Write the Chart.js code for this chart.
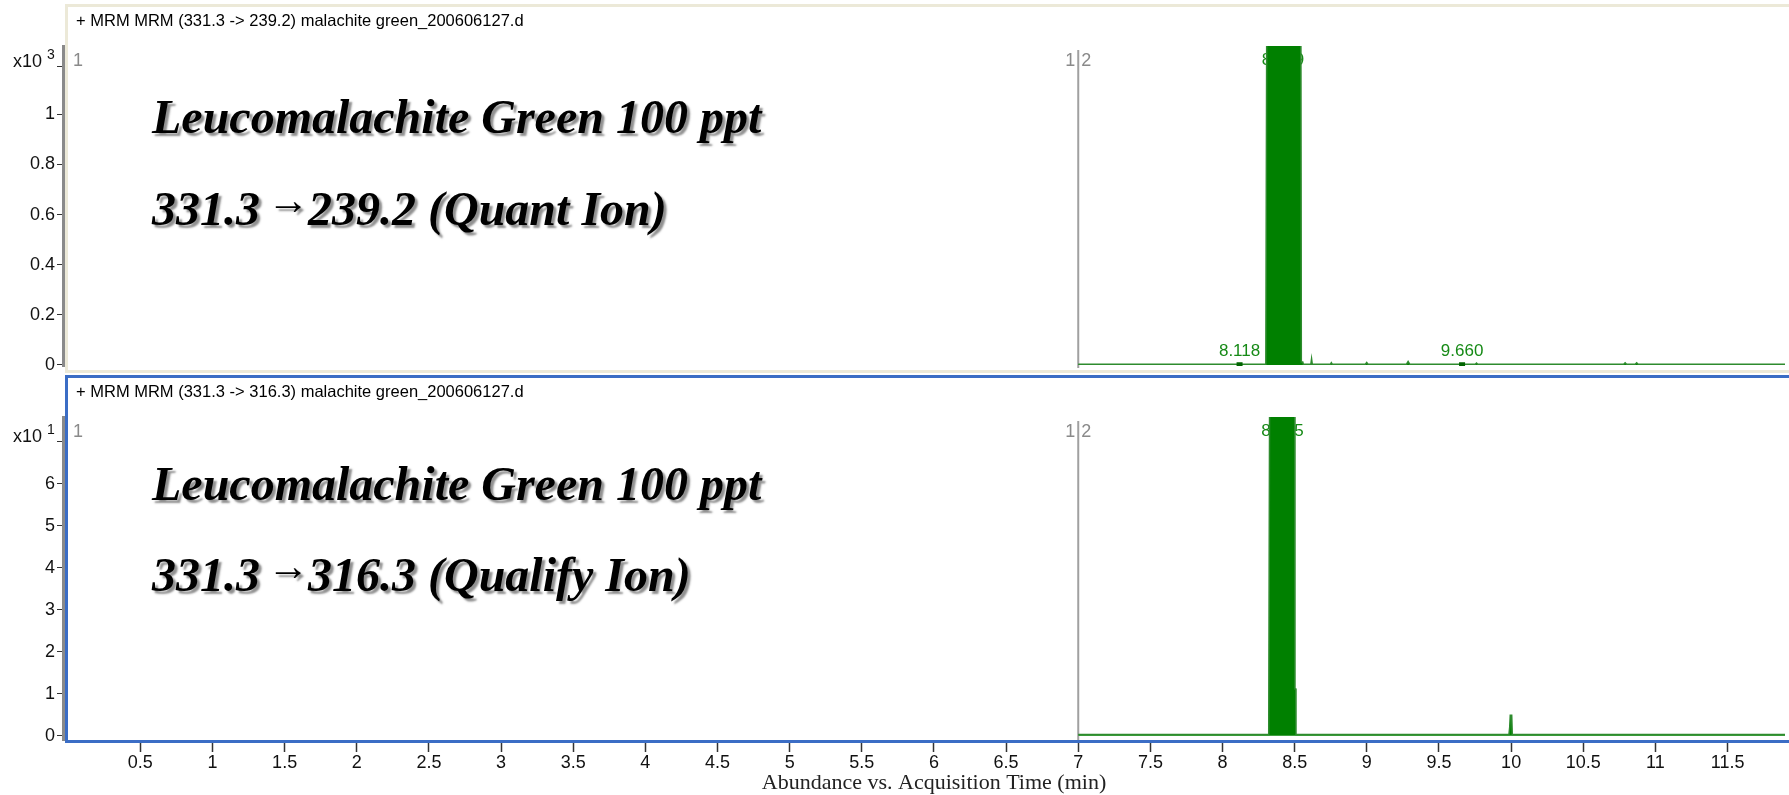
<!DOCTYPE html>
<html>
<head>
<meta charset="utf-8">
<script src="https://cdn.jsdelivr.net/npm/chart.js@4.4.1/dist/chart.umd.min.js"></script>
<style>
    html, body { margin: 0; padding: 0; background: #fff; }
    body { width: 1789px; height: 795px; position: relative; overflow: hidden; }
    .box { position: absolute; left: 0; width: 1789px; }
    #boxTop { top: 0; height: 380px; }
    #boxBot { top: 380px; height: 415px; }
    .frame { position: absolute; pointer-events: none; box-sizing: border-box; }
    #frameTop { left: 65px; top: 4px; width: 1740px; height: 369px; border: 3px solid #ece9d8; }
    #frameBot { left: 65px; top: 375px; width: 1740px; height: 368px; border: 3px solid #3b6dc5; }
    .hdr { position: absolute; left: 76px; font: 16.5px 'Liberation Sans', Arial, sans-serif; color: #000; white-space: nowrap; line-height: 18px; }
</style>
</head>
<body>
<div class="box" id="boxTop"><canvas id="graficoQuant"></canvas></div>
<div class="box" id="boxBot"><canvas id="graficoQual"></canvas></div>
<div class="frame" id="frameTop"></div>
<div class="frame" id="frameBot"></div>
<div class="hdr" style="top: 11px">+ MRM MRM (331.3 -&gt; 239.2) malachite green_200606127.d</div>
<div class="hdr" style="top: 382px">+ MRM MRM (331.3 -&gt; 316.3) malachite green_200606127.d</div>
<script>
const xTicks = [0.5, 1, 1.5, 2, 2.5, 3, 3.5, 4, 4.5, 5, 5.5, 6, 6.5, 7, 7.5, 8, 8.5, 9, 9.5, 10, 10.5, 11, 11.5]
const segmentBreak = 7.0

// 331.3 -> 239.2, abundance x10^3
const quantTime = [7.0, 8.300, 8.306, 8.543, 8.546, 8.556, 8.560, 8.612, 8.617, 8.622, 8.748, 8.754, 8.760, 8.990, 8.999, 9.008, 9.275, 9.286, 9.297, 9.752, 9.760, 9.768, 10.780, 10.790, 10.800, 10.860, 10.870, 10.880, 11.9]
const quantAbund = [0.003, 0.003, 1.30, 1.30, 0.012, 0.012, 0.003, 0.003, 0.025, 0.003, 0.003, 0.009, 0.003, 0.003, 0.010, 0.003, 0.003, 0.014, 0.003, 0.003, 0.008, 0.003, 0.003, 0.009, 0.003, 0.003, 0.009, 0.003, 0.003]
const quantYTicks = [0, 0.2, 0.4, 0.6, 0.8, 1]
const quantYLabels = ['0', '0.2', '0.4', '0.6', '0.8', '1']
const quantRt = [8.118, 8.419, 9.660]
const quantRtLabels = ['8.118', '8.419', '9.660']
const quantRtHeight = [0.003, 1.30, 0.003]

// 331.3 -> 316.3, abundance x10^1
const qualTime = [7.0, 8.320, 8.326, 8.501, 8.502, 8.508, 8.509, 9.985, 9.990, 9.994, 10.004, 10.008, 11.9]
const qualAbund = [0.03, 0.03, 7.8, 7.8, 1.11, 1.11, 0.03, 0.03, 0.20, 0.49, 0.49, 0.03, 0.03]
const qualYTicks = [0, 1, 2, 3, 4, 5, 6]
const qualYLabels = ['0', '1', '2', '3', '4', '5', '6']
const qualRt = [8.415]
const qualRtLabels = ['8.415']
const qualRtHeight = [7.8]

const sansFont = "'Liberation Sans', Arial, sans-serif"
const serifFont = "'Liberation Serif', 'Times New Roman', serif"

const panelText = {
    id: 'panelText',
    beforeDatasetsDraw(chart, args, o) {
        const { ctx, chartArea, scales: { x, y } } = chart
        ctx.save()
        // segment separator and segment numbers
        const sx = x.getPixelForValue(o.segment)
        ctx.strokeStyle = '#a0a0a0'
        ctx.lineWidth = 2
        ctx.beginPath()
        ctx.moveTo(sx, chartArea.top + 4)
        ctx.lineTo(sx, chartArea.bottom + 2)
        ctx.stroke()
        ctx.font = '18px ' + sansFont
        ctx.fillStyle = '#8a8a8a'
        ctx.textBaseline = 'middle'
        const ny = chartArea.top + 15
        ctx.textAlign = 'left'
        ctx.fillText('1', chartArea.left + 10, ny)
        ctx.fillText('2', sx + 3, ny)
        ctx.textAlign = 'right'
        ctx.fillText('1', sx - 3, ny)

        // retention time labels, the trace covers them
        ctx.font = '17px ' + sansFont
        ctx.fillStyle = '#168a16'
        ctx.textAlign = 'center'
        o.rt.forEach((t, i) => {
            const py = Math.max(y.getPixelForValue(o.rtHeight[i]) - 13, chartArea.top + 14)
            ctx.fillText(o.rtLabels[i], x.getPixelForValue(t), py)
        })
        ctx.restore()
    },
    afterDatasetsDraw(chart, args, o) {
        const { ctx, chartArea, scales: { x, y } } = chart
        ctx.save()
        ctx.beginPath()
        ctx.rect(chartArea.left, chartArea.top, chartArea.width, chartArea.height)
        ctx.clip()
        ctx.fillStyle = '#006400'
        o.rt.forEach((t, i) => {
            ctx.fillRect(x.getPixelForValue(t) - 3, y.getPixelForValue(o.rtHeight[i]) - 2, 6, 4)
        })
        ctx.restore()
    },
    afterDraw(chart, args, o) {
        const { ctx, scales: { y } } = chart
        ctx.save()
        // exponent at top of y axis
        const ey = y.getPixelForValue(o.expValue)
        ctx.fillStyle = '#111'
        ctx.textAlign = 'left'
        ctx.textBaseline = 'alphabetic'
        ctx.font = '18px ' + sansFont
        ctx.fillText('x10', 13, ey)
        ctx.font = '14px ' + sansFont
        ctx.fillText(o.expText, 47, ey - 8)

        // big notes, the arrow is set upright and raised
        const noteFont = 'italic bold 48px ' + serifFont
        ctx.font = noteFont
        ctx.fillStyle = '#000'
        ctx.shadowColor = 'rgba(70,70,70,0.6)'
        ctx.shadowOffsetX = 3
        ctx.shadowOffsetY = 3
        ctx.shadowBlur = 2
        o.notes.forEach((s, i) => {
            const ny = o.noteY[i]
            const parts = s.split('\u2192')
            ctx.fillText(parts[0], 152, ny)
            if (parts.length > 1) {
                const xx = 152 + ctx.measureText(parts[0]).width
                ctx.font = 'bold 42px ' + serifFont
                ctx.textAlign = 'center'
                ctx.textBaseline = 'middle'
                ctx.fillText('\u2192', xx + 16, ny - 22)
                ctx.font = noteFont
                ctx.textAlign = 'left'
                ctx.textBaseline = 'alphabetic'
                ctx.fillText(parts[1], xx + 36, ny)
            }
        })
        ctx.shadowColor = 'transparent'

        if (o.xTitle) {
            ctx.font = '22px ' + serifFont
            ctx.fillStyle = '#222'
            ctx.textAlign = 'center'
            ctx.textBaseline = 'middle'
            ctx.fillText(o.xTitle, 934, chart.height - 12)
        }
        ctx.restore()
    }
}

function criarPainel(id, cfg) {
    const el = document.getElementById(id)
    const pts = cfg.time.map((t, i) => ({ x: t, y: cfg.abund[i] }))
    const yTicks = cfg.yTicks.concat([cfg.expValue])

    return new Chart(el, {
        type: 'line',
        data: {
            datasets: [{
                data: pts,
                borderColor: '#2e8b2e',
                borderWidth: 1.5,
                backgroundColor: '#008000',
                fill: 'origin',
                pointRadius: 0,
                tension: 0
            }]
        },
        options: {
            responsive: true,
            maintainAspectRatio: false,
            animation: false,
            events: [],
            layout: { padding: cfg.padding },
            plugins: {
                legend: { display: false },
                tooltip: { enabled: false },
                panelText: {
                    segment: segmentBreak,
                    rt: cfg.rt,
                    rtLabels: cfg.rtLabels,
                    rtHeight: cfg.rtHeight,
                    expValue: cfg.expValue,
                    expText: cfg.expText,
                    notes: cfg.notes,
                    noteY: cfg.noteY,
                    xTitle: cfg.xTitle
                }
            },
            scales: {
                x: {
                    type: 'linear',
                    min: -0.036,
                    max: 11.898,
                    display: cfg.showX,
                    afterBuildTicks: s => { s.ticks = xTicks.map(v => ({ value: v })) },
                    afterFit: s => { s.height = cfg.xHeight },
                    border: { display: false },
                    grid: { drawOnChartArea: false, tickLength: 12, tickColor: '#333', tickWidth: 1.5 },
                    ticks: {
                        autoSkip: false,
                        maxRotation: 0,
                        padding: 0,
                        color: '#111',
                        font: { family: sansFont, size: 18 },
                        callback: (v, i) => String(xTicks[i])
                    }
                },
                y: {
                    type: 'linear',
                    min: cfg.yMin,
                    max: cfg.yMax,
                    afterBuildTicks: s => { s.ticks = yTicks.map(v => ({ value: v })) },
                    afterFit: s => { s.width = 63 },
                    border: { display: true, color: '#8a8a8a', width: 3 },
                    grid: { drawOnChartArea: false, tickLength: 6, tickColor: '#333' },
                    ticks: {
                        padding: 2,
                        color: '#111',
                        font: { family: sansFont, size: 18 },
                        callback: (v, i) => cfg.yLabels[i] || ''
                    }
                }
            }
        },
        plugins: [panelText]
    })
}

document.addEventListener('DOMContentLoaded', () => {
    criarPainel('graficoQuant', {
        time: quantTime,
        abund: quantAbund,
        yTicks: quantYTicks,
        yLabels: quantYLabels,
        yMin: -0.004,
        yMax: 1.2724,
        expValue: 1.19,
        expText: '3',
        rt: quantRt,
        rtLabels: quantRtLabels,
        rtHeight: quantRtHeight,
        notes: ['Leucomalachite Green 100 ppt', '331.3 \u2192239.2 (Quant Ion)'],
        noteY: [133, 225],
        padding: { top: 46, bottom: 14, left: 0, right: 4 },
        showX: false,
        xHeight: 0
    })
    criarPainel('graficoQual', {
        time: qualTime,
        abund: qualAbund,
        yTicks: qualYTicks,
        yLabels: qualYLabels,
        yMin: -0.102,
        yMax: 7.588,
        expValue: 7.0,
        expText: '1',
        rt: qualRt,
        rtLabels: qualRtLabels,
        rtHeight: qualRtHeight,
        notes: ['Leucomalachite Green 100 ppt', '331.3 \u2192316.3 (Qualify Ion)'],
        noteY: [120, 211],
        xTitle: 'Abundance vs. Acquisition Time (min)',
        padding: { top: 37, bottom: 0, left: 0, right: 4 },
        showX: true,
        xHeight: 55
    })
})
</script>
</body>
</html>
